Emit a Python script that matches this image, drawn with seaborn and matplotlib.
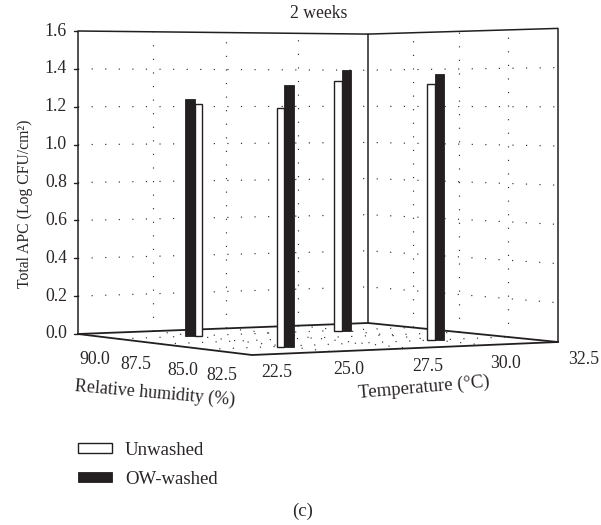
import numpy as np
import pandas as pd
import matplotlib
matplotlib.use("Agg")
import matplotlib.pyplot as plt
import seaborn as sns

# axes
temp_ticks = [22.5, 25.0, 27.5, 30.0, 32.5]
rh_ticks = [90.0, 87.5, 85.0, 82.5, 80.0]
apc_ticks = [0.0, 0.2, 0.4, 0.6, 0.8, 1.0, 1.2, 1.4, 1.6]

# bars, one pair per temperature / humidity combination
bar_temp = [25.0, 25.0, 30.0, 30.0]
bar_rh = [87.5, 82.5, 87.5, 82.5]
unwashed = [1.215, 1.195, 1.337, 1.317]
ow_washed = [1.24, 1.31, 1.396, 1.369]
unwashed_side = [1, -1, -1, -1]  # which side of the pair the white bar sits on

# where the floor corners land on the page (T low/high, RH high/low), pixels
corner_a = (78, 334)
corner_d = (368, 323)
corner_b = (252, 355)
corner_c = (558, 342)
wall_px = 303

# tick label nudges, pixels
rh_label_dx = [17, 17, 22, 16]
temp_label_dx = [25, 17, 19, 21, 26]

sns.set_theme(style="white")
plt.rcParams["font.family"] = ["Liberation Serif", "DejaVu Serif"]
text_color = "#2b2626"
line_color = "#231f20"


def floor_matrix():
    # homography from the unit square to the floor quadrilateral
    ax_, ay = corner_a
    dx, dy = corner_d
    bx, by = corner_b
    cx, cy = corner_c
    d1x, d1y = dx - cx, dy - cy
    d2x, d2y = bx - cx, by - cy
    sx, sy = ax_ - dx + cx - bx, ay - dy + cy - by
    det = d1x * d2y - d2x * d1y
    g = (sx * d2y - d2x * sy) / det
    h = (d1x * sy - sx * d1y) / det
    return np.array([
        [dx * (1 + g) - ax_, bx * (1 + h) - ax_, ax_],
        [dy * (1 + g) - ay, by * (1 + h) - ay, ay],
        [g, h, 1.0],
    ])


M = floor_matrix()


def project(temp, rh, z=0.0):
    u = (temp - temp_ticks[0]) / (temp_ticks[-1] - temp_ticks[0])
    v = (rh_ticks[0] - rh) / (rh_ticks[0] - rh_ticks[-1])
    x, y, w = M @ np.array([u, v, 1.0])
    return x / w, y / w - wall_px * (z / apc_ticks[-1]) / w


def draw_lines(ax, segments, **style):
    rows = []
    for i, seg in enumerate(segments):
        for order, p in enumerate(seg):
            x, y = project(*p)
            rows.append({"x": x, "y": y, "line": i, "order": order})
    df = pd.DataFrame(rows)
    sns.lineplot(data=df, x="x", y="y", units="line", estimator=None, sort=False,
                 legend=False, ax=ax, **style)


fig = plt.figure(figsize=(6.01, 5.25), dpi=100)
ax = fig.add_axes([0, 0, 1, 1])

t0, t1 = temp_ticks[0], temp_ticks[-1]
r0, r1 = rh_ticks[0], rh_ticks[-1]
ztop = apc_ticks[-1]

# dotted grid on the two walls and the floor
dots = dict(color="#333333", linewidth=0.85, linestyle=(0, (1, 10.5)), zorder=1)
grid = []
for z in apc_ticks[1:-1]:
    grid.append([(t0, r0, z), (t1, r0, z), (t1, r1, z)])
for t in temp_ticks[1:-1]:
    grid.append([(t, r0, 0), (t, r0, ztop)])
for r in rh_ticks[1:-1]:
    grid.append([(t1, r, 0), (t1, r, ztop)])
draw_lines(ax, grid, **dots)

floor = []
for t in temp_ticks[1:-1]:
    floor.append([(t, r0, 0), (t, r1, 0)])
for r in rh_ticks[1:-1]:
    floor.append([(t0, r, 0), (t1, r, 0)])
draw_lines(ax, floor, **dots)

# frame
frame = [
    [(t0, r0, 0), (t0, r0, ztop), (t1, r0, ztop), (t1, r1, ztop), (t1, r1, 0)],
    [(t1, r0, 0), (t1, r0, ztop)],
]
draw_lines(ax, frame, color=line_color, linewidth=1.1, zorder=2)
floor_edges = [
    [(t0, r0, 0), (t1, r0, 0), (t1, r1, 0)],
    [(t0, r0, 0), (t0, r1, 0), (t1, r1, 0)],
]
draw_lines(ax, floor_edges, color=line_color, linewidth=1.3, zorder=2)

# bars
white_w, black_w = 7.5, 9.5
for i in range(len(bar_temp)):
    cx, base = project(bar_temp[i], bar_rh[i])
    side = unwashed_side[i]
    _, top_w = project(bar_temp[i], bar_rh[i], unwashed[i])
    _, top_b = project(bar_temp[i], bar_rh[i], ow_washed[i])
    wx = [cx, cx + side * white_w]
    bx = [cx, cx - side * black_w]
    ax.fill([wx[0], wx[1], wx[1], wx[0]], [base + 0.5, base + 0.5, top_w, top_w], facecolor="white",
            edgecolor=line_color, linewidth=1.0, zorder=3, label="Unwashed" if i == 0 else None)
    ax.fill([bx[0], bx[1], bx[1], bx[0]], [base + 0.5, base + 0.5, top_b, top_b], facecolor=line_color,
            edgecolor=line_color, linewidth=0.6, zorder=4, label="OW-washed" if i == 0 else None)

# apc axis
ticks = []
x_left, _ = project(t0, r0)
for z in apc_ticks:
    _, y = project(t0, r0, z)
    ticks.append({"x": x_left - 4, "y": y, "line": z})
    ticks.append({"x": x_left, "y": y, "line": z})
    ax.text(x_left - 11, y, f"{z:.1f}", ha="right", va="center", fontsize=12.8, color=text_color)
sns.lineplot(data=pd.DataFrame(ticks), x="x", y="y", units="line", estimator=None, sort=False,
             legend=False, color=line_color, linewidth=1.0, ax=ax)

# floor tick labels
for r, dx in zip(rh_ticks[:-1], rh_label_dx):
    x, y = project(t0, r)
    ax.text(x + dx, y + 26, f"{r:.1f}", ha="center", va="center", fontsize=12.8, color=text_color)
for t, dx in zip(temp_ticks, temp_label_dx):
    x, y = project(t, r1)
    ax.text(x + dx, y + 18, f"{t:.1f}", ha="center", va="center", fontsize=12.8, color=text_color)

ax.text(25, 204, "Total APC (Log CFU/cm²)", rotation=90, ha="center", va="center",
        fontsize=11.3, color=text_color)
ax.text(155, 393, "Relative humidity (%)", rotation=-5, ha="center", va="center",
        fontsize=13, color=text_color)
ax.text(424, 388, "Temperature (°C)", rotation=5, ha="center", va="center",
        fontsize=13.5, color=text_color)
ax.text(318.5, 13, "2 weeks", ha="center", va="center", fontsize=12.7, color=text_color)
ax.text(303, 511, "(c)", ha="center", va="center", fontsize=13.5, color=text_color)

ax.legend(loc="upper left", bbox_to_anchor=(78, 442), bbox_transform=ax.transData,
          frameon=False, fontsize=13.5, labelcolor=text_color, handlelength=1.8, handleheight=0.43,
          handletextpad=0.7, labelspacing=0.62, borderpad=0, borderaxespad=0)

ax.set_xlim(0, 601)
ax.set_ylim(525, 0)
ax.axis("off")

plt.savefig("out.png", dpi=100, facecolor="white")
